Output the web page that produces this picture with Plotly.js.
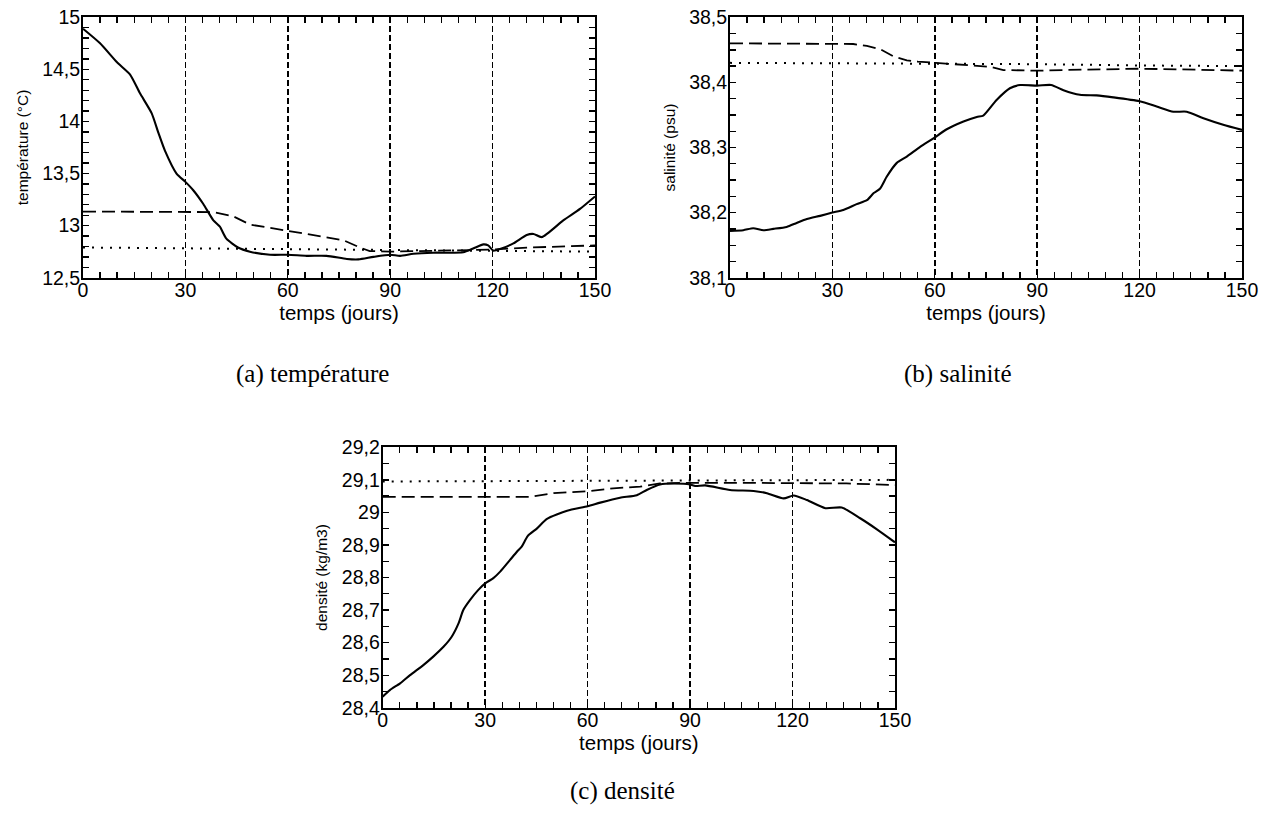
<!DOCTYPE html>
<html>
<head>
<meta charset="utf-8">
<script src="https://cdn.plot.ly/plotly-3.0.1.min.js"></script>
<style>html,body{margin:0;padding:0;background:#fff}#chart{width:1268px;height:814px}</style>
</head>
<body>
<div id="chart"></div>
<script>
// ---- (a) température ----
const tempSolidDays = [0,5,9.9,13.8,16.7,20.1,22.1,24,27.4,30,32.3,35.2,38.2,40.1,42,45.4,48.9,54.8,60,65.5,71.4,77.3,80.7,85.1,90,92.9,96.8,102.6,106.5,111.4,114.3,117.3,118.7,120.2,122.6,126.1,130,132,134.4,140.7,145.6,150];
const tempSolid = [14.89,14.75,14.57,14.45,14.27,14.08,13.89,13.72,13.5,13.42,13.34,13.21,13.05,12.99,12.875,12.79,12.75,12.72,12.72,12.71,12.71,12.68,12.676,12.70,12.72,12.71,12.73,12.74,12.74,12.745,12.78,12.82,12.81,12.76,12.78,12.83,12.91,12.92,12.89,13.05,13.16,13.28];
const tempDashedDays = [0,30,38,44,48.9,60,70.4,76.3,81.1,84,90,96.8,106.5,116.3,120,131,150];
const tempDashed = [13.135,13.135,13.13,13.09,13.01,12.95,12.89,12.86,12.79,12.756,12.75,12.756,12.76,12.77,12.77,12.79,12.81];
const tempDottedDays = [0,60,90,120,150];
const tempDotted = [12.79,12.775,12.765,12.755,12.75];

// ---- (b) salinité ----
const salSolidDays = [0,3.9,6.8,9.8,12.7,16.6,19.5,22.5,26.4,30,33.2,37.1,40.1,42.1,44,45.9,48.8,51.8,55.7,59.6,63.5,68.4,72.3,74.2,78.1,82,85,90,94.1,97.7,102.5,107.4,112.3,120,125,129.9,133.8,138.7,144.5,150];
const salSolid = [38.172,38.173,38.176,38.173,38.175,38.178,38.184,38.19,38.195,38.2,38.204,38.213,38.219,38.23,38.237,38.255,38.276,38.286,38.301,38.314,38.328,38.34,38.347,38.349,38.373,38.391,38.396,38.395,38.396,38.388,38.381,38.38,38.377,38.371,38.363,38.355,38.355,38.345,38.335,38.327];
const salDashedDays = [0,30,36.1,40.1,44,47.9,51.8,55,60,68.4,76.2,80.1,90,97.7,107.5,120,132,150];
const salDashed = [38.46,38.46,38.459,38.456,38.451,38.44,38.434,38.432,38.43,38.427,38.424,38.419,38.418,38.419,38.42,38.421,38.42,38.418];
const salDottedDays = [0,60,90,120,150];
const salDotted = [38.43,38.429,38.428,38.426,38.425];

// ---- (c) densité ----
const densSolidDays = [0,2.1,5.1,8,11.9,14.8,17.8,20.2,22.2,23.6,25.6,28,30,32.4,34.4,37.3,39.3,40.7,42.5,45.2,48.1,54,60,63.7,69.5,74.4,77.3,81.2,85.1,90,91.5,94.4,101.7,108.6,112.5,117.4,120.3,124.2,129.6,134.4,139.8,144.7,150];
const densSolid = [28.434,28.454,28.475,28.5,28.531,28.557,28.587,28.618,28.659,28.7,28.731,28.762,28.782,28.798,28.818,28.854,28.879,28.895,28.928,28.951,28.98,29.005,29.019,29.03,29.045,29.053,29.069,29.086,29.089,29.086,29.081,29.083,29.069,29.066,29.059,29.043,29.052,29.038,29.013,29.015,28.982,28.948,28.908];
const densDashedDays = [0,43.2,50,60,67.5,75.4,81.2,90,101.7,120,135.8,150];
const densDashed = [29.048,29.048,29.059,29.065,29.074,29.079,29.089,29.091,29.091,29.091,29.089,29.084];
const densDottedDays = [0,60,90,120,150];
const densDotted = [29.095,29.097,29.098,29.099,29.1];

const xTitle = 'temps (jours)';
const yTitles = ['température (°C)', 'salinité (psu)', 'densité (kg/m3)'];
const captions = ['(a) température', '(b) salinité', '(c) densité'];

const SANS = 'Liberation Sans, Arial, sans-serif';
const solidLine = {color:'#000', width:2.1, shape:'spline', smoothing:0.6};
const dashedLine = {color:'#000', width:1.8, dash:'13px,6px'};
const dottedLine = {color:'#000', width:2, dash:'2px,7px'};

function tr(x, y, line, xa, ya){
  return {x:x, y:y, type:'scatter', mode:'lines', line:line, xaxis:xa, yaxis:ya, hoverinfo:'skip', showlegend:false};
}
const data = [
  tr(tempDottedDays,tempDotted,dottedLine,'x','y'),
  tr(tempDashedDays,tempDashed,dashedLine,'x','y'),
  tr(tempSolidDays,tempSolid,solidLine,'x','y'),
  tr(salDottedDays,salDotted,dottedLine,'x2','y2'),
  tr(salDashedDays,salDashed,dashedLine,'x2','y2'),
  tr(salSolidDays,salSolid,solidLine,'x2','y2'),
  tr(densDottedDays,densDotted,dottedLine,'x3','y3'),
  tr(densDashedDays,densDashed,dashedLine,'x3','y3'),
  tr(densSolidDays,densSolid,solidLine,'x3','y3')
];

const W = 1268, H = 814;
function xax(l, r, anchor){
  return {
    domain:[l/W, r/W], anchor:anchor, range:[0,150],
    tickmode:'linear', tick0:0, dtick:30,
    ticks:'inside', ticklen:6, tickwidth:1.3, tickcolor:'#000',
    minor:{tick0:0, dtick:5, ticks:'inside', ticklen:6, tickwidth:1.3, tickcolor:'#000', showgrid:false},
    showline:true, linewidth:2, linecolor:'#000', mirror:'allticks',
    showgrid:true, gridcolor:'#000', gridwidth:1.6, griddash:'6px,3px',
    zeroline:false, ticklabelstandoff:-6,
    tickfont:{family:SANS, size:19.5, color:'#000'},
    title:{text:xTitle, font:{family:SANS, size:20.5, color:'#000'}, standoff:0}
  };
}
function yax(t, b, anchor, range, dtick, mdtick, title){
  return {
    domain:[1-b/H, 1-t/H], anchor:anchor, range:range,
    tickmode:'linear', tick0:range[0], dtick:dtick,
    ticks:'inside', ticklen:6, tickwidth:1.3, tickcolor:'#000',
    minor:{tick0:range[0], dtick:mdtick, ticks:'inside', ticklen:6, tickwidth:1.3, tickcolor:'#000', showgrid:false},
    showline:true, linewidth:2, linecolor:'#000', mirror:'allticks',
    showgrid:false, zeroline:false, ticklabelstandoff:-3,
    tickfont:{family:SANS, size:19.5, color:'#000'},
    title:{text:title, font:{family:SANS, size:15.5, color:'#000'}, standoff:10}
  };
}

const capFont = {family:'Liberation Serif, Times New Roman, serif', size:25, color:'#000'};
const layout = {
  width:W, height:H,
  margin:{l:0, r:0, t:0, b:0},
  paper_bgcolor:'#fff', plot_bgcolor:'#fff',
  separators:', ',
  showlegend:false,
  xaxis: xax(83, 595, 'y'),
  yaxis: yax(17.3, 277.7, 'x', [12.5,15], 0.5, 0.1, yTitles[0]),
  xaxis2: xax(730, 1242, 'y2'),
  yaxis2: yax(17.3, 277.7, 'x2', [38.1,38.5], 0.1, 0.025, yTitles[1]),
  xaxis3: xax(382.7, 895, 'y3'),
  yaxis3: yax(447.3, 707.7, 'x3', [28.4,29.2], 0.1, 0.05, yTitles[2]),
  annotations:[
    {text:captions[0], xref:'paper', yref:'paper', x:312/W, y:1-374/H, showarrow:false, font:capFont, xanchor:'center', yanchor:'middle'},
    {text:captions[1], xref:'paper', yref:'paper', x:958/W, y:1-374/H, showarrow:false, font:capFont, xanchor:'center', yanchor:'middle'},
    {text:captions[2], xref:'paper', yref:'paper', x:622/W, y:1-791/H, showarrow:false, font:capFont, xanchor:'center', yanchor:'middle'}
  ]
};
Plotly.newPlot('chart', data, layout, {staticPlot:true, displayModeBar:false});
</script>
</body>
</html>
